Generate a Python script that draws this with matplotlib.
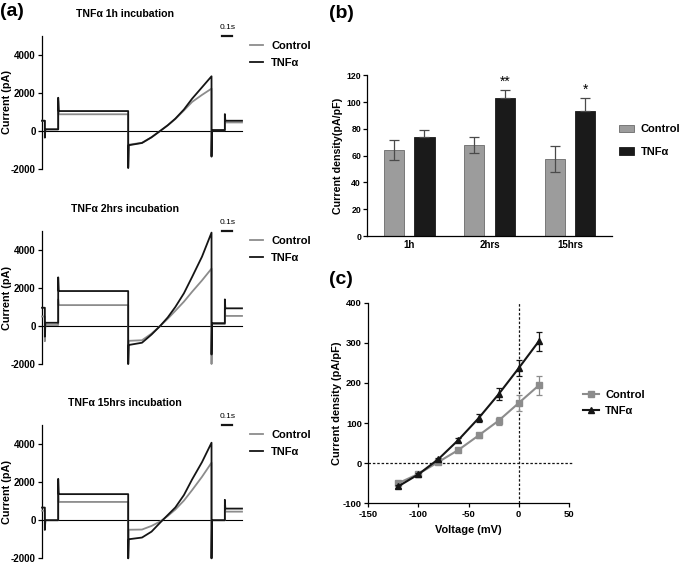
import numpy as np
import matplotlib
matplotlib.use("Agg")
import matplotlib.pyplot as plt

plt.rcParams["font.family"] = ["Liberation Sans", "DejaVu Sans"]
plt.rcParams["font.weight"] = "bold"
plt.rcParams["axes.labelweight"] = "bold"
plt.rcParams["axes.unicode_minus"] = False

GRAY = "#8c8c8c"
BLACK = "#151515"

# (a) current traces: shared vertex times (s) and currents (pA)
trace_t = [0, 0.03, 0.03, 0.035, 0.17, 0.17, 0.175, 0.905, 0.905, 0.91, 1.05,
           1.15, 1.24, 1.32, 1.40, 1.49, 1.576, 1.68, 1.78, 1.78, 1.785, 1.92,
           1.92, 1.925, 2.1]
ctrl_1h = [540, 540, -300, 80, 80, 1600, 880, 880, -1900, -720, -620,
           -330, 0, 300, 630, 1080, 1530, 1900, 2230, -1300, 40, 40,
           850, 450, 450]
tnf_1h = [540, 540, -350, 90, 90, 1750, 1050, 1050, -1950, -750, -630,
          -330, 0, 300, 650, 1130, 1700, 2300, 2880, -1350, 50, 50,
          890, 540, 540]
ctrl_2h = [500, 500, -800, 50, 50, 1400, 1100, 1100, -2000, -780, -750,
           -400, 0, 380, 800, 1280, 1800, 2400, 3020, -2000, 100, 100,
           900, 530, 530]
tnf_2h = [960, 960, -560, 170, 170, 2560, 1840, 1840, -2000, -1000, -880,
          -450, 0, 450, 1000, 1720, 2580, 3650, 4915, -1500, 150, 150,
          1400, 930, 930]
ctrl_15h = [500, 500, -400, 0, 0, 1500, 960, 960, -2000, -500, -490,
            -300, -70, 220, 560, 1030, 1580, 2280, 3020, -2000, 0, 0,
            800, 450, 450]
tnf_15h = [663, 663, -510, 0, 0, 2170, 1370, 1370, -2000, -1000, -910,
           -600, -130, 270, 670, 1320, 2140, 3050, 4070, -2000, 0, 0,
           1070, 610, 610]
trace_titles = ["TNFα 1h incubation", "TNFα 2hrs incubation", "TNFα 15hrs incubation"]
scale_bar = (1.89, 1.99)

# (b) current density bars
groups = ["1h", "2hrs", "15hrs"]
bar_ctrl = [64, 67.7, 57.7]
bar_ctrl_err = [7.6, 6.0, 9.7]
bar_tnf = [74, 103, 93.3]
bar_tnf_err = [4.8, 6.3, 10.0]
stars = ["", "**", "*"]

# (c) I-V relation
voltage = [-120, -100, -80, -60, -40, -20, 0, 20]
iv_ctrl = [-50, -27, 3, 33, 69, 106, 150, 194]
iv_ctrl_err = [4, 3, 4, 4, 5, 10, 19, 23]
iv_tnf = [-58, -28, 10, 58, 112, 172, 237, 304]
iv_tnf_err = [3, 3, 4, 5, 10, 15, 19, 24]

W, H = 683, 563
fig = plt.figure(figsize=(W / 100, H / 100), dpi=100)


def px_axes(left, top, right, bottom):
    return fig.add_axes([left / W, 1 - bottom / H, (right - left) / W, (bottom - top) / H])


def style(ax, size, lw=0.9):
    for s in ["top", "right"]:
        ax.spines[s].set_visible(False)
    for s in ["left", "bottom"]:
        ax.spines[s].set_linewidth(lw)
    ax.tick_params(length=3, width=lw, labelsize=size, pad=1.5)


def trace_panel(ax, ctrl, tnf, title):
    ax.plot(trace_t, ctrl, color=GRAY, lw=1.3, label="Control", zorder=3, clip_on=False)
    ax.plot(trace_t, tnf, color=BLACK, lw=1.3, label="TNFα", zorder=4, clip_on=False)
    ax.set_xlim(0, 2.1)
    ax.set_ylim(-2000, 5000)
    style(ax, 7)
    ax.spines["bottom"].set_position(("data", 0))
    ax.spines["bottom"].set_linewidth(0.8)
    ax.set_xticks([])
    ax.set_yticks([-2000, 0, 2000, 4000])
    ax.set_ylabel("Current (pA)", fontsize=7.8)
    ax.yaxis.set_label_coords(-0.148, 0.5)
    ax.text(0.415, 1.165, title, transform=ax.transAxes, ha="center", va="center", fontsize=7.6)
    ax.plot(scale_bar, [5000, 5000], color=BLACK, lw=1.6, clip_on=False)
    ax.text(sum(scale_bar) / 2 + 0.01, 5250, "0.1s", ha="center", va="bottom",
            fontsize=6, fontweight="normal")
    ax.legend(loc="upper left", bbox_to_anchor=(1.04, 0.962), frameon=False, fontsize=8,
              handlelength=1.2, handletextpad=0.7, labelspacing=0.65, borderpad=0, borderaxespad=0)


tops = [36, 231, 425]
bottoms = [169, 364, 558.3]
trace_sets = [(ctrl_1h, tnf_1h), (ctrl_2h, tnf_2h), (ctrl_15h, tnf_15h)]
for top, bot, (c, t), title in zip(tops, bottoms, trace_sets, trace_titles):
    trace_panel(px_axes(42, top, 242, bot), c, t, title)

# (b)
axb = px_axes(367.3, 75.3, 612, 236)
x = np.arange(len(groups))
axb.bar(x - 0.19, bar_ctrl, 0.25, color="#9c9c9c", edgecolor="#6a6a6a", lw=0.6, label="Control",
        yerr=bar_ctrl_err, error_kw=dict(ecolor="#4a4a4a", elinewidth=0.9, capsize=3.5, capthick=0.9))
axb.bar(x + 0.19, bar_tnf, 0.25, color="#1a1a1a", edgecolor="#1a1a1a", lw=0.6, label="TNFα",
        yerr=[np.zeros(len(groups)), bar_tnf_err],
        error_kw=dict(ecolor="#4a4a4a", elinewidth=0.9, capsize=3.5, capthick=0.9))
for xi, m, e, s in zip(x, bar_tnf, bar_tnf_err, stars):
    if s:
        axb.text(xi + 0.19, m + e + 0.5, s, ha="center", va="bottom", fontsize=10, fontweight="normal")
axb.set_xlim(-0.52, 2.52)
axb.set_ylim(0, 120)
axb.set_yticks(range(0, 121, 20))
axb.set_xticks(x)
axb.set_xticklabels(groups)
style(axb, 6.3)
axb.tick_params(axis="x", length=0, labelsize=7, pad=3)
axb.set_ylabel("Current density(pA/pF)", fontsize=7.7)
axb.yaxis.set_label_coords(-0.1, 0.5)
axb.legend(loc="upper left", bbox_to_anchor=(1.03, 0.695), frameon=False, fontsize=8,
           handlelength=1.3, handleheight=0.7, handletextpad=0.6, labelspacing=1.1,
           borderpad=0, borderaxespad=0)

# (c)
axc = px_axes(368, 302.7, 569, 503.3)
axc.plot([-150, 54], [0, 0], color=BLACK, lw=0.9, ls=(0, (2, 1.5)), clip_on=False, zorder=1)
axc.plot([0, 0], [-100, 400], color=BLACK, lw=0.9, ls=(0, (2, 1.5)), zorder=1)
axc.errorbar(voltage, iv_ctrl, yerr=iv_ctrl_err, color=GRAY, lw=1.5, marker="s", ms=5,
             capsize=2.5, elinewidth=0.9, capthick=0.9, label="Control", zorder=3)
axc.errorbar(voltage, iv_tnf, yerr=iv_tnf_err, color=BLACK, lw=1.5, marker="^", ms=5,
             capsize=2.5, elinewidth=0.9, capthick=0.9, label="TNFα", zorder=4)
axc.set_xlim(-150, 50)
axc.set_ylim(-100, 400)
axc.set_xticks(range(-150, 51, 50))
axc.set_yticks(range(-100, 401, 100))
style(axc, 6.8)
axc.set_xlabel("Voltage (mV)", fontsize=7.9, labelpad=5)
axc.set_ylabel("Current density (pA/pF)", fontsize=7.9)
axc.yaxis.set_label_coords(-0.129, 0.5)
handles, labels = axc.get_legend_handles_labels()
axc.legend([h[0] for h in handles], labels, loc="upper left", bbox_to_anchor=(1.07, 0.565),
           frameon=False, fontsize=8, handlelength=1.4, handletextpad=0.6, labelspacing=0.55,
           borderpad=0, borderaxespad=0)

fig.text(0, 1 - 12 / H, "(a)", fontsize=14, va="center", ha="left")
fig.text(329 / W, 1 - 13 / H, "(b)", fontsize=14, va="center", ha="left")
fig.text(329 / W, 1 - 279 / H, "(c)", fontsize=14, va="center", ha="left")

fig.savefig("out.png", dpi=100)
